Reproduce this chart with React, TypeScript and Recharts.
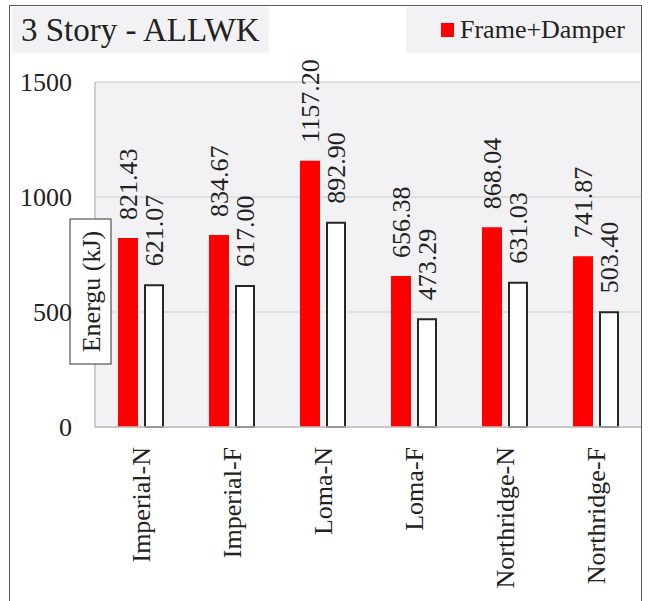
import React from 'react';
import { BarChart, Bar, XAxis, YAxis, CartesianGrid, Legend, Rectangle } from 'recharts';

const categories = ['Imperial-N', 'Imperial-F', 'Loma-N', 'Loma-F', 'Northridge-N', 'Northridge-F'];
const frameDamper = [821.43, 834.67, 1157.2, 656.38, 868.04, 741.87];
const frameOnly = [621.07, 617.0, 892.9, 473.29, 631.03, 503.4];
const yTicks = [0, 500, 1000, 1500];

const data = categories.map((name, i) => ({ name, fd: frameDamper[i], f: frameOnly[i] }));

const FONT = '"Liberation Serif", "Times New Roman", serif';
const TEXT = '#222';

const XTick = (props: any) => {
  const { x, y, payload } = props;
  return (
    <text
      transform={`translate(${x},${y}) rotate(-90)`}
      textAnchor="end"
      dy="0.35em"
      fontSize={26}
      fontFamily={FONT}
      style={{ fontFamily: FONT, fontSize: 26 }}
      fill={TEXT}
    >
      {payload.value}
    </text>
  );
};

const renderValueLabel = (props: any) => {
  const { x, y, width, value, index } = props;
  const cx = Number(x) + Number(width) / 2;
  return (
    <text
      key={`vl-${index}-${value}`}
      transform={`translate(${cx},${Number(y) - 18}) rotate(-90)`}
      textAnchor="start"
      dy="0.35em"
      fontSize={26}
      fontFamily={FONT}
      style={{ fontFamily: FONT, fontSize: 26 }}
      fill={TEXT}
    >
      {Number(value).toFixed(2)}
    </text>
  );
};

const WhiteBar = (p: any) => (
  <Rectangle {...p} x={p.x + 1} width={p.width - 2} y={p.y + 1} height={Math.max(0, p.height - 1)} />
);

const YLabel = () => (
  <g>
    <rect x={70} y={219} width={41} height={145} fill="#fff" stroke="#333" strokeWidth={1} />
    <text
      transform={`translate(${90.5},${291.5}) rotate(-90)`}
      textAnchor="middle"
      dy="0.35em"
      fontFamily={FONT}
      style={{ fontFamily: FONT, fontSize: 26 }}
      fill={TEXT}
    >
      Energu (kJ)
    </text>
  </g>
);

const LegendContent = () => (
  <div
    style={{
      width: 235,
      height: 46,
      background: '#F2F2F4',
      position: 'relative',
      fontFamily: FONT,
      fontSize: 26,
      lineHeight: '46px',
      color: TEXT,
      whiteSpace: 'nowrap',
    }}
  >
    <span style={{ position: 'absolute', left: 35, top: 16, width: 13, height: 14, background: '#FF0000' }} />
    <span style={{ position: 'absolute', left: 54, top: 0 }}>Frame+Damper</span>
  </div>
);

export default function App() {
  return (
    <div
      style={{
        position: 'absolute',
        left: 0,
        top: 0,
        width: 654,
        height: 601,
        overflow: 'hidden',
        background: '#fff',
        fontFamily: FONT,
      }}
    >
      <div
        style={{
          position: 'absolute',
          left: 9,
          top: 5,
          width: 633,
          height: 620,
          border: '1.5px solid #5a5a5a',
          boxSizing: 'border-box',
        }}
      />
      <div
        style={{
          position: 'absolute',
          left: 12,
          top: 7,
          width: 257,
          height: 46,
          background: '#F2F2F4',
          fontSize: 33,
          lineHeight: '46px',
          color: TEXT,
          paddingLeft: 9,
          boxSizing: 'border-box',
          whiteSpace: 'nowrap',
        }}
      >
        3 Story - ALLWK
      </div>
      <div style={{ position: 'absolute', left: 0, top: 0, fontFamily: FONT }}>
        <BarChart
          width={654}
          height={601}
          data={data}
          margin={{ top: 82, right: 13, left: 0, bottom: 0 }}
          barGap={6}
          style={{ fontFamily: FONT }}
        >
          <CartesianGrid vertical={false} fill="#F2F2F4" stroke="#D9D9D9" strokeWidth={1.5} />
          <XAxis
            dataKey="name"
            height={174}
            interval={0}
            tickSize={0}
            tickMargin={20}
            tick={<XTick />}
            axisLine={{ stroke: '#BFBFBF', strokeWidth: 1.5 }}
            tickLine={false}
          />
          <YAxis
            width={95}
            domain={[0, 1500]}
            ticks={yTicks}
            tickSize={0}
            tickMargin={23}
            tickLine={false}
            axisLine={{ stroke: '#BFBFBF', strokeWidth: 1.5 }}
            tick={{ fontSize: 26, fontFamily: FONT, fill: TEXT }}
            label={{ content: () => <YLabel /> }}
          />
          <Legend
            layout="horizontal"
            verticalAlign="middle"
            align="center"
            content={() => <LegendContent />}
            wrapperStyle={{ position: 'absolute', left: 406, top: 7, width: 235, height: 46 }}
          />
          <Bar
            dataKey="fd"
            name="Frame+Damper"
            fill="#FF0000"
            barSize={20}
            isAnimationActive={false}
            label={renderValueLabel}
          />
          <Bar
            dataKey="f"
            name="Frame"
            fill="#FFFFFF"
            stroke="#262626"
            strokeWidth={2}
            barSize={20}
            shape={<WhiteBar />}
            legendType="none"
            isAnimationActive={false}
            label={renderValueLabel}
          />
        </BarChart>
      </div>
    </div>
  );
}
